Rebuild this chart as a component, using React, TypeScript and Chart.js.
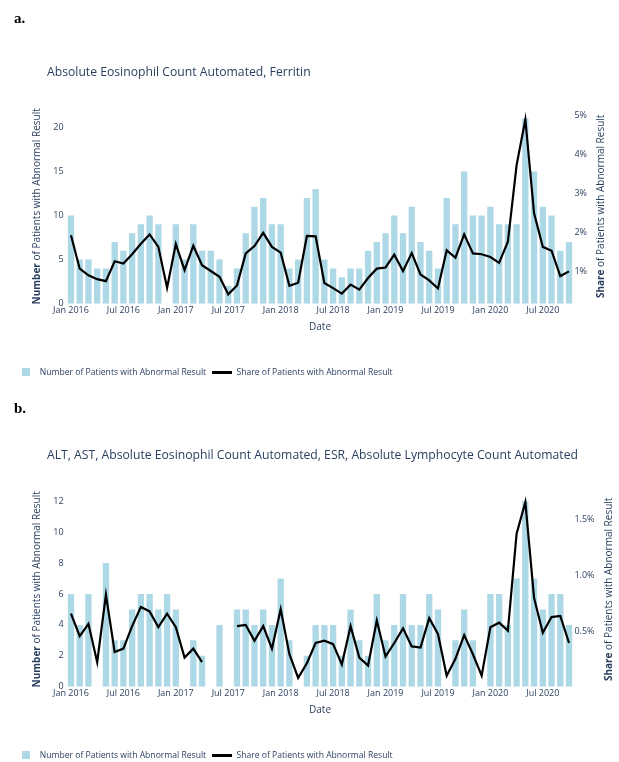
import React, { useEffect, useRef } from "react";
import { Chart, registerables } from "chart.js";

Chart.register(...registerables);

// ---------- data ----------
const months = [
  "Jan 2016", "Feb 2016", "Mar 2016", "Apr 2016", "May 2016", "Jun 2016",
  "Jul 2016", "Aug 2016", "Sep 2016", "Oct 2016", "Nov 2016", "Dec 2016",
  "Jan 2017", "Feb 2017", "Mar 2017", "Apr 2017", "May 2017", "Jun 2017",
  "Jul 2017", "Aug 2017", "Sep 2017", "Oct 2017", "Nov 2017", "Dec 2017",
  "Jan 2018", "Feb 2018", "Mar 2018", "Apr 2018", "May 2018", "Jun 2018",
  "Jul 2018", "Aug 2018", "Sep 2018", "Oct 2018", "Nov 2018", "Dec 2018",
  "Jan 2019", "Feb 2019", "Mar 2019", "Apr 2019", "May 2019", "Jun 2019",
  "Jul 2019", "Aug 2019", "Sep 2019", "Oct 2019", "Nov 2019", "Dec 2019",
  "Jan 2020", "Feb 2020", "Mar 2020", "Apr 2020", "May 2020", "Jun 2020",
  "Jul 2020", "Aug 2020", "Sep 2020", "Oct 2020",
];

// Panel a: Absolute Eosinophil Count Automated, Ferritin
const countsA: (number | null)[] = [
  10, 5, 5, 4, 4, 7, 6, 8, 9, 10, 9, null,
  9, 5, 9, 6, 6, 5, 2, 4, 8, 11, 12, 9,
  9, 4, 5, 12, 13, 5, 4, 3, 4, 4, 6, 7,
  8, 10, 8, 11, 7, 6, 4, 12, 9, 15, 10, 10,
  11, 9, 9, 9, 21, 15, 11, 10, 6, 7,
];
const sharesA: (number | null)[] = [
  1.93, 1.07, 0.9, 0.8, 0.75, 1.26, 1.2, 1.44, 1.71, 1.95, 1.63, 0.58,
  1.7, 1.03, 1.66, 1.16, 1.01, 0.86, 0.41, 0.64, 1.46, 1.65, 1.99, 1.63,
  1.48, 0.63, 0.71, 1.91, 1.9, 0.7, 0.57, 0.43, 0.66, 0.53, 0.83, 1.07,
  1.1, 1.43, 1.01, 1.47, 0.92, 0.77, 0.56, 1.54, 1.35, 1.95, 1.46, 1.44,
  1.37, 1.22, 1.76, 3.73, 4.9, 2.49, 1.63, 1.53, 0.88, 1.0,
];
const countTicksA = [0, 5, 10, 15, 20];
const shareTicksA = [1, 2, 3, 4, 5];

// Panel b: ALT, AST, Absolute Eosinophil Count Automated, ESR, Absolute Lymphocyte Count Automated
const countsB: (number | null)[] = [
  6, 4, 6, null, 8, 3, 3, 5, 6, 6, 5, 6,
  5, null, 3, 2, null, 4, null, 5, 5, 4, 5, 4,
  7, 3, null, 2, 4, 4, 4, 2, 5, 3, 2, 6,
  3, 4, 6, 4, 4, 6, 5, null, 3, 5, 3, null,
  6, 6, 4, 7, 12, 7, 5, 6, 6, 4,
];
const sharesB: (number | null)[] = [
  0.66, 0.46, 0.57, 0.23, 0.83, 0.32, 0.35, 0.55, 0.72, 0.68, 0.54, 0.66,
  0.54, 0.27, 0.35, 0.23, null, null, null, 0.55, 0.56, 0.42, 0.55, 0.35,
  0.7, 0.3, 0.09, 0.22, 0.4, 0.42, 0.39, 0.21, 0.55, 0.27, 0.2, 0.6,
  0.28, 0.4, 0.53, 0.37, 0.36, 0.62, 0.48, 0.11, 0.26, 0.47, 0.3, 0.11,
  0.54, 0.58, 0.51, 1.37, 1.65, 0.8, 0.49, 0.63, 0.64, 0.4,
];
const countTicksB = [0, 2, 4, 6, 8, 10, 12];
const shareTicksB = [0.5, 1.0, 1.5];

const titleA = "Absolute Eosinophil Count Automated, Ferritin";
const titleB =
  "ALT, AST, Absolute Eosinophil Count Automated, ESR, Absolute Lymphocyte Count Automated";
const barLabel = "Number of Patients with Abnormal Result";
const lineLabel = "Share of Patients with Abnormal Result";

// ---------- styling ----------
const TEXT = "#2a3f5f";
const BAR = "#add8e6";
const FONT = '"Open Sans", "DejaVu Sans", sans-serif';

function swatch(w: number, h: number, color: string) {
  const c = document.createElement("canvas");
  c.width = w;
  c.height = h;
  const x = c.getContext("2d")!;
  x.fillStyle = color;
  x.fillRect(0, 0, w, h);
  return c;
}

function drawRotated(ctx: CanvasRenderingContext2D, x: number, y: number, bold: string, rest: string) {
  ctx.save();
  ctx.translate(x, y);
  ctx.rotate(-Math.PI / 2);
  ctx.fillStyle = TEXT;
  ctx.textBaseline = "middle";
  ctx.textAlign = "left";
  ctx.font = `bold 10px ${FONT}`;
  const wb = ctx.measureText(bold).width;
  ctx.font = `10px ${FONT}`;
  const wr = ctx.measureText(rest).width;
  const start = -(wb + wr) / 2;
  ctx.font = `bold 10px ${FONT}`;
  ctx.fillText(bold, start, 0);
  ctx.font = `10px ${FONT}`;
  ctx.fillText(rest, start + wb, 0);
  ctx.restore();
}

const axisTitlePlugin = {
  id: "axisTitles",
  afterDraw(chart: any, _args: any, opts: any) {
    const { ctx, chartArea } = chart;
    const cy = (chartArea.top + chartArea.bottom) / 2;
    drawRotated(ctx, opts.leftX, cy, "Number", " of Patients with Abnormal Result");
    drawRotated(ctx, opts.rightX, cy, "Share", " of Patients with Abnormal Result");
  },
};

type PanelProps = {
  counts: (number | null)[];
  shares: (number | null)[];
  countMax: number;
  countTicks: number[];
  shareMin: number;
  shareMax: number;
  shareTicks: number[];
  shareDigits: number;
  rightTitleX: number;
};

function Panel(p: PanelProps) {
  const ref = useRef<HTMLCanvasElement>(null);
  useEffect(() => {
    const sq = swatch(8, 8, BAR);
    const ln = swatch(20, 3, "#000000");
    const chart = new Chart(ref.current!, {
      type: "bar",
      data: {
        labels: months,
        datasets: [
          {
            type: "bar",
            label: barLabel,
            data: p.counts,
            backgroundColor: BAR,
            borderWidth: 0,
            barPercentage: 0.72,
            categoryPercentage: 1,
            yAxisID: "y",
            order: 1,
          },
          {
            type: "line",
            label: lineLabel,
            data: p.shares,
            borderColor: "#000000",
            backgroundColor: "#000000",
            borderWidth: 2.2,
            pointRadius: 0,
            tension: 0,
            spanGaps: false,
            yAxisID: "y1",
            order: 0,
          },
        ] as any,
      },
      options: {
        animation: false,
        responsive: false,
        layout: { padding: { left: 9.5, right: 0, top: 109, bottom: 3.5 } },
        plugins: {
          tooltip: { enabled: false },
          title: { display: false },
          legend: {
            position: "bottom",
            align: "start",
            labels: {
              usePointStyle: true,
              pointStyleWidth: 20,
              padding: 6,
              color: TEXT,
              font: { size: 8.6, family: FONT },
              sort: (a: any, b: any) => a.datasetIndex - b.datasetIndex,
              generateLabels(chart: any) {
                const items = (Chart.defaults.plugins.legend.labels as any).generateLabels(chart);
                items.forEach((it: any) => {
                  it.pointStyle = it.datasetIndex === 0 ? sq : ln;
                });
                return items;
              },
            },
          },
          axisTitles: { leftX: 37, rightX: p.rightTitleX },
        } as any,
        scales: {
          x: {
            type: "category",
            offset: true,
            grid: { display: false, drawTicks: false },
            border: { display: false },
            ticks: {
              autoSkip: false,
              maxRotation: 0,
              minRotation: 0,
              padding: 1,
              color: TEXT,
              font: { size: 9, family: FONT },
              callback(this: any, _v: any, i: number) {
                const m = months[i];
                return m.startsWith("Jan") || m.startsWith("Jul") ? m : "";
              },
            },
            title: {
              display: true,
              text: "Date",
              color: TEXT,
              font: { size: 10, family: FONT },
              padding: { top: 0, bottom: 28.5 },
            },
            afterFit(s: any) {
              s.height = 58.2;
            },
          },
          y: {
            position: "left",
            min: 0,
            max: p.countMax,
            grid: { display: false, drawTicks: false },
            border: { display: false },
            ticks: { padding: 3, color: TEXT, font: { size: 9, family: FONT } },
            afterBuildTicks(axis: any) {
              axis.ticks = p.countTicks.map((v) => ({ value: v }));
            },
            afterFit(s: any) {
              s.width = 57.1;
            },
          },
          y1: {
            position: "right",
            min: p.shareMin,
            max: p.shareMax,
            grid: { display: false, drawTicks: false },
            border: { display: false },
            ticks: {
              padding: 1,
              color: TEXT,
              font: { size: 9, family: FONT },
              callback: (v: any) => Number(v).toFixed(p.shareDigits) + "%",
            },
            afterBuildTicks(axis: any) {
              axis.ticks = p.shareTicks.map((v) => ({ value: v }));
            },
            afterFit(s: any) {
              s.width = 45.6;
            },
          },
        },
      } as any,
      plugins: [axisTitlePlugin as any],
    });
    return () => chart.destroy();
  }, []);
  return <canvas ref={ref} width={619} height={390} style={{ display: "block" }} />;
}

const panelLabel: React.CSSProperties = {
  position: "absolute",
  left: 14,
  font: 'bold 15px "Liberation Serif", "DejaVu Serif", serif',
  color: "#000",
  lineHeight: "18px",
};
const chartTitle: React.CSSProperties = {
  position: "absolute",
  left: 47,
  font: `12.2px ${FONT}`,
  color: TEXT,
  lineHeight: "16px",
  whiteSpace: "nowrap",
};

export default function App() {
  return (
    <div
      style={{
        position: "absolute",
        left: 0,
        top: 0,
        width: 619,
        height: 762,
        overflow: "hidden",
        background: "#fff",
      }}
    >
      <div style={{ position: "absolute", left: 0, top: 0 }}>
        <Panel
          counts={countsA}
          shares={sharesA}
          countMax={22.08}
          countTicks={countTicksA}
          shareMin={0.17}
          shareMax={5.17}
          shareTicks={shareTicksA}
          shareDigits={0}
          rightTitleX={601}
        />
      </div>
      <div style={{ position: "absolute", left: 0, top: 383 }}>
        <Panel
          counts={countsB}
          shares={sharesB}
          countMax={12.6}
          countTicks={countTicksB}
          shareMin={0.012}
          shareMax={1.74}
          shareTicks={shareTicksB}
          shareDigits={1}
          rightTitleX={609}
        />
      </div>
      <div style={{ ...panelLabel, top: 9 }}>a.</div>
      <div style={{ ...chartTitle, top: 64 }}>{titleA}</div>
      <div style={{ ...panelLabel, top: 399 }}>b.</div>
      <div style={{ ...chartTitle, top: 447 }}>{titleB}</div>
    </div>
  );
}
